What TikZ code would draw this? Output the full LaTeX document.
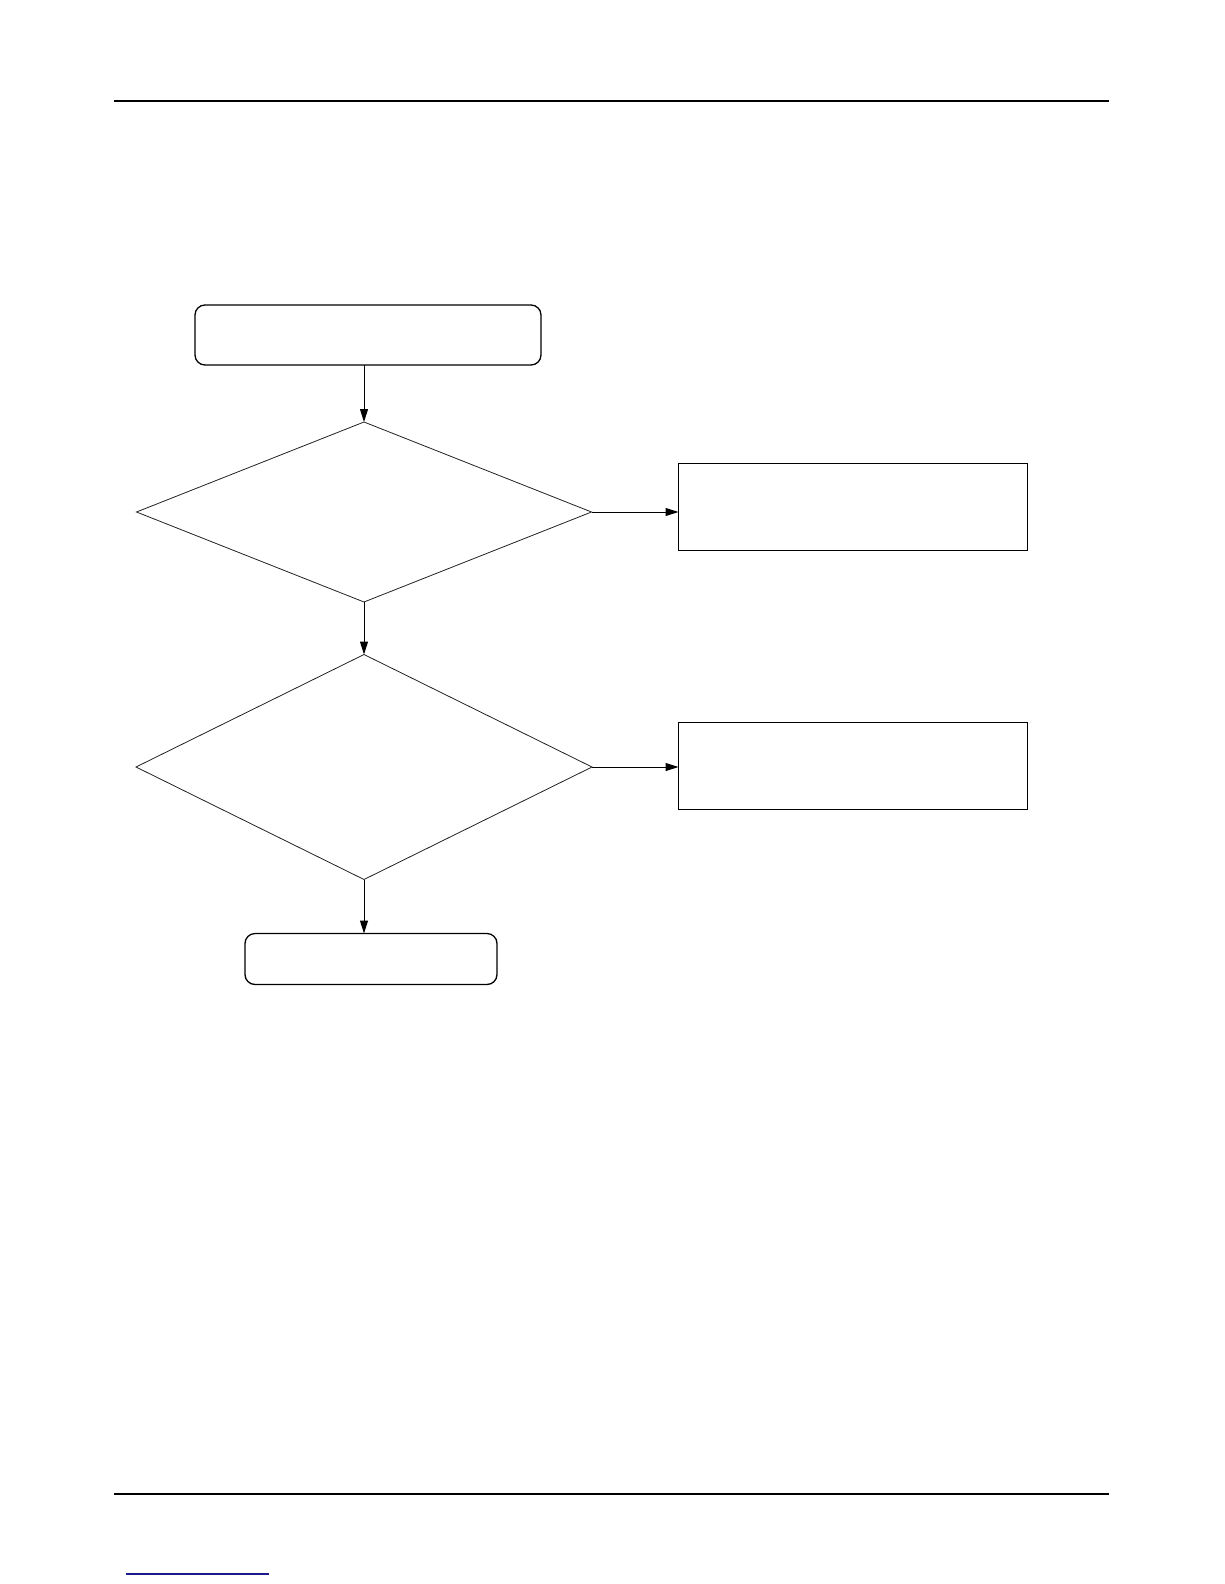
\documentclass[tikz,border=0pt]{standalone}
\usepackage{tikz}
\usetikzlibrary{arrows.meta, positioning, calc, shapes.geometric}
\definecolor{RuleBlack}{HTML}{000000}
\definecolor{LinkBlue}{HTML}{1A1A8C}
\definecolor{EdgeGray}{HTML}{222222}
\tikzset{
  roundbox/.style={draw=RuleBlack, line width=1.3pt, rounded corners=10pt, fill=white, inner sep=0pt, outer sep=0pt},
  plainbox/.style={draw=RuleBlack, line width=1.3pt, fill=white, inner sep=0pt, outer sep=0pt},
  decision/.style={draw=EdgeGray, line width=0.8pt, diamond, fill=white, inner sep=0pt, outer sep=0pt},
  arrow/.style={-{Triangle[length=13pt, width=8pt]}, line width=1pt, draw=RuleBlack}
}

\begin{document}
\begin{tikzpicture}[x=1pt, y=-1pt]
\useasboundingbox (0,0) rectangle (1224,1584);

% page rules
\draw[RuleBlack, line width=1.4pt] (114,101) -- (1109,101);
\draw[RuleBlack, line width=1.2pt] (114,1494) -- (1109,1494);
\draw[LinkBlue, line width=1.4pt] (126,1574) -- (269,1574);

% flow
\node[roundbox, minimum width=346pt, minimum height=60pt] (start) at (368,335) {};
\node[decision, minimum width=455pt, minimum height=180pt] (checkA) at (364,512) {};
\node[plainbox, minimum width=349pt, minimum height=87pt] (fixA) at (853,507) {};
\node[decision, minimum width=456pt, minimum height=225pt] (checkB) at (364,767) {};
\node[plainbox, minimum width=349pt, minimum height=87pt] (fixB) at (853,766) {};
\node[roundbox, minimum width=252pt, minimum height=51pt] (done) at (371,959) {};

\draw[arrow] (checkA.north |- start.south) -- (checkA.north);
\draw[arrow] (checkA.east) -- (checkA.east -| fixA.west);
\draw[arrow] (checkA.south) -- (checkB.north);
\draw[arrow] (checkB.east) -- (checkB.east -| fixB.west);
\draw[arrow] (checkB.south) -- (checkB.south |- done.north);
\end{tikzpicture}
\end{document}
